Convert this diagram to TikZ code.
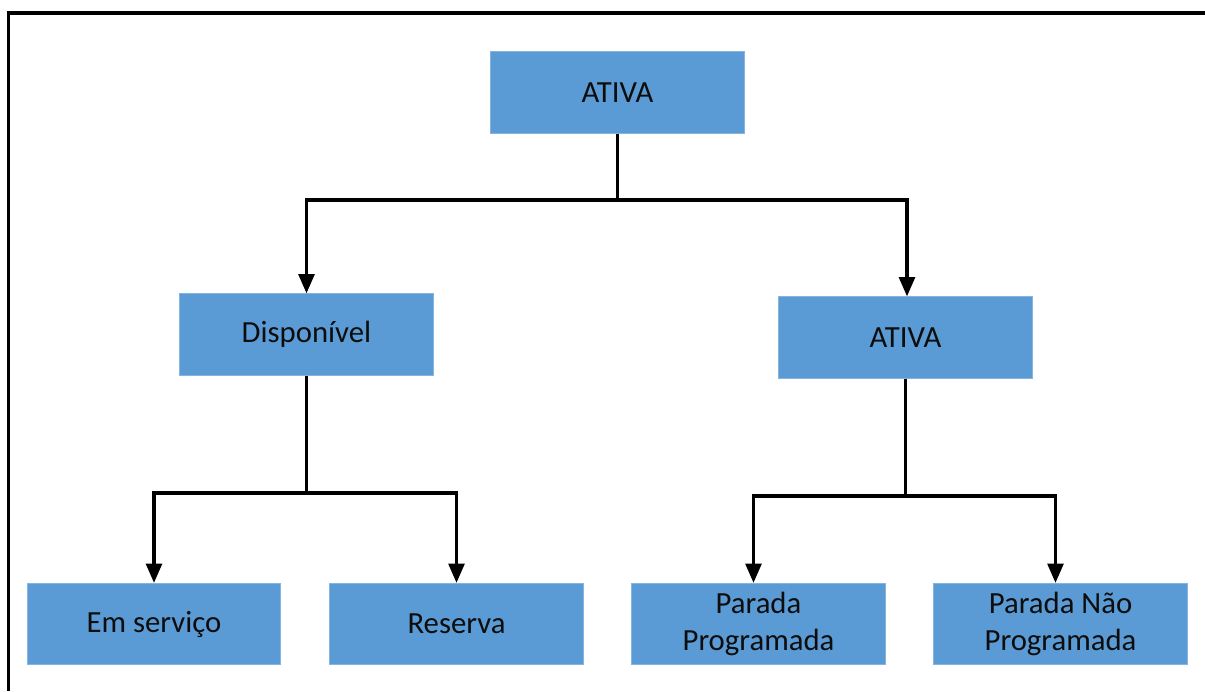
\documentclass[tikz,border=0pt]{standalone}
\usepackage{fontspec}
\setmainfont{Carlito}
\usetikzlibrary{arrows.meta,calc}
\definecolor{boxblue}{HTML}{5B9BD5}
\definecolor{textdark}{HTML}{0D0D0D}
\tikzset{
  statebox/.style={rectangle, fill=boxblue, draw=boxblue!75!white, line width=0.4pt,
    minimum width=5.07cm, minimum height=1.63cm, inner sep=0pt,
    align=center, text=textdark, font=\fontsize{17.5}{21}\selectfont},
  link/.style={line width=1.9pt, line join=miter},
  linkarrow/.style={link, -{Triangle[width=9pt,length=11pt]}},
  frameline/.style={line width=1.9pt}
}
\begin{document}
\begin{tikzpicture}[x=0.02cm, y=-0.02cm]
  \useasboundingbox (0,0) rectangle (1205,691);

  % outer frame (top and left edges)
  \draw[frameline] (8.5,691) -- (8.5,13) -- (1205,13);

  % boxes
  \node[statebox] (top)   at (617.5,92.5)  {ATIVA};
  \node[statebox] (disp)  at (306.5,334.5) {Disponível};
  \node[statebox] (ativa) at (905.5,337.5) {ATIVA};
  \node[statebox] (serv)  at (154,624)     {Em serviço};
  \node[statebox] (res)   at (456.5,624)   {Reserva};
  \node[statebox] (pp)    at (758.5,624)   {Parada\\Programada};
  \node[statebox] (pnp)   at (1060.5,624)  {Parada Não\\Programada};

  % branch points
  \coordinate (busA) at (617.5,200);
  \coordinate (busB) at (306.5,493);
  \coordinate (busC) at (905.5,496);

  % first level
  \draw[link] (top.south) -- (busA);
  \draw[linkarrow] (busA) -| (disp.north);
  \draw[linkarrow] (busA) -| ($(ativa.north)+(1.5,0)$);

  % Disponível branch
  \draw[link] (disp.south) -- (busB);
  \draw[linkarrow] (busB) -| (serv.north);
  \draw[linkarrow] (busB) -| (res.north);

  % ATIVA branch
  \draw[link] (ativa.south) -- (busC);
  \draw[linkarrow] (busC) -| ($(pp.north)+(-5,0)$);
  \draw[linkarrow] (busC) -| ($(pnp.north)+(-5,0)$);
\end{tikzpicture}
\end{document}
